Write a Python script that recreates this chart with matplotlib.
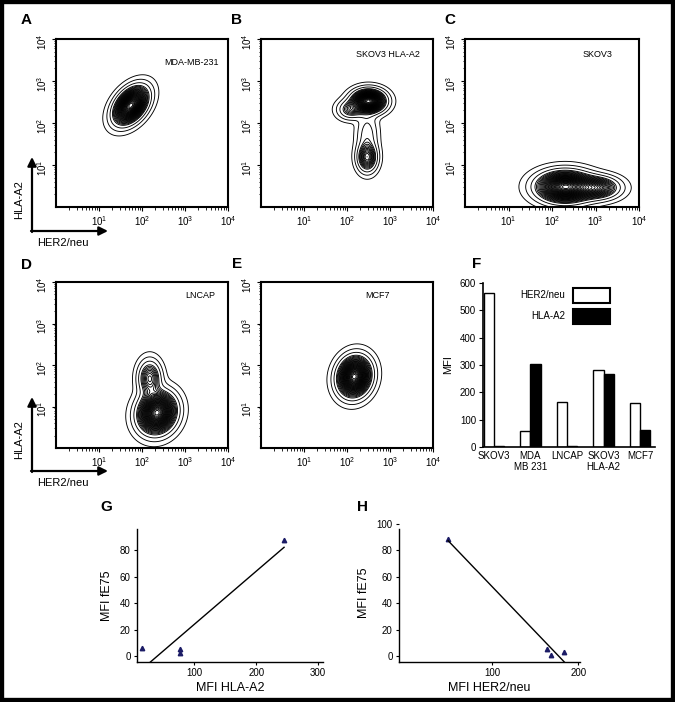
import numpy as np
import matplotlib.pyplot as plt
from matplotlib.patches import Rectangle
from matplotlib.ticker import FixedLocator, LogLocator, NullFormatter

plt.rcParams['font.family'] = ['Liberation Sans', 'DejaVu Sans']

W, H = 675, 702

# flow populations, log10 units: (HER2 centre, HLA-A2 centre, sd x, sd y, corr, weight)
pops_A = [(1.74, 2.42, 0.215, 0.24, 0.42, 1.0)]
pops_B = [(2.50, 2.52, 0.21, 0.15, 0.0, 1.0),
          (2.08, 2.32, 0.17, 0.13, 0.0, 0.22),
          (2.47, 1.70, 0.14, 0.32, 0.0, 0.12),
          (2.47, 1.18, 0.13, 0.19, 0.0, 0.40)]
pops_C = [(2.30, 0.48, 0.35, 0.20, 0.0, 1.0),
          (3.05, 0.46, 0.28, 0.15, 0.0, 0.45)]
pops_D = [(2.35, 0.85, 0.24, 0.27, 0.1, 1.0),
          (2.18, 1.68, 0.15, 0.24, 0.0, 0.35)]
pops_E = [(2.17, 1.72, 0.21, 0.26, 0.1, 1.0)]

flow_names = ['MDA-MB-231', 'SKOV3 HLA-A2', 'SKOV3', 'LNCAP', 'MCF7']

# panel F
cell_lines = ['SKOV3', 'MDA\nMB 231', 'LNCAP', 'SKOV3\nHLA-A2', 'MCF7']
her2_mfi = [563, 57, 163, 282, 160]
hla_mfi = [2, 302, 5, 266, 63]

# panels G and H
hla_g = [15, 76, 77, 245]
fe75_g = [6, 2.5, 5, 88]
her2_h = [49, 164, 168, 184]
fe75_h = [88.5, 5.5, 1, 3]

fig = plt.figure(figsize=(W / 100, H / 100), dpi=100)


def add_ax(x0, y0, x1, y1):
    return fig.add_axes([x0 / W, 1 - y1 / H, (x1 - x0) / W, (y1 - y0) / H])


# --- contour plots ---
g = np.linspace(0, 4, 400)
GX, GY = np.meshgrid(g, g)
levels = np.concatenate([[0.01, 0.035, 0.08], np.linspace(0.14, 0.98, 30)])

boxes = [(56, 39, 228, 207), (261, 39, 433, 207), (465, 39, 639, 207),
         (56, 282, 228, 448), (261, 282, 433, 448)]
name_pos = [(0.79, 0.86), (0.74, 0.91), (0.76, 0.905), (0.84, 0.92), (0.68, 0.92)]

for box, pops, name, npos in zip(boxes, [pops_A, pops_B, pops_C, pops_D, pops_E],
                                 flow_names, name_pos):
    ax = add_ax(*box)
    Z = np.zeros_like(GX)
    for cx, cy, sx, sy, rho, w in pops:
        dx = (GX - cx) / sx
        dy = (GY - cy) / sy
        q = (dx**2 - 2 * rho * dx * dy + dy**2) / (1 - rho**2)
        Z += w * np.exp(-q / 2)
    Z /= Z.max()
    ax.contour(10**GX, 10**GY, Z, levels=levels, colors='black', linewidths=0.65)
    ax.set_xscale('log')
    ax.set_yscale('log')
    ax.set_xlim(1, 1e4)
    ax.set_ylim(1, 1e4)
    for axis in (ax.xaxis, ax.yaxis):
        axis.set_major_locator(FixedLocator([10, 100, 1000, 10000]))
        axis.set_minor_locator(LogLocator(base=10, subs=np.arange(2, 10)))
        axis.set_minor_formatter(NullFormatter())
    ax.tick_params(which='major', direction='out', length=3, width=0.8, labelsize=7, pad=2)
    ax.tick_params(which='minor', direction='out', length=1.8, width=0.6)
    ax.tick_params(axis='y', labelrotation=90)
    for s in ax.spines.values():
        s.set_linewidth(1.5)
    ax.text(npos[0], npos[1], name, transform=ax.transAxes, ha='center',
            va='center', fontsize=6.5)

# --- panel F ---
axF = add_ax(483, 283, 655, 447)
xF = np.arange(len(cell_lines))
bw = 0.28
axF.bar(xF - bw / 2, her2_mfi, bw, color='white', edgecolor='black', linewidth=1.0)
axF.bar(xF + bw / 2, hla_mfi, bw, color='black', edgecolor='black', linewidth=1.0)
axF.set_xlim(-0.30, 4.41)
axF.set_ylim(0, 600)
axF.set_yticks(range(0, 601, 100))
axF.set_xticks(xF)
axF.set_xticklabels(cell_lines, fontsize=7, linespacing=1.1)
axF.tick_params(axis='x', length=0, pad=3)
axF.tick_params(axis='y', direction='out', length=3, labelsize=7, pad=2)
axF.spines['top'].set_visible(False)
axF.spines['right'].set_visible(False)
axF.spines['left'].set_linewidth(1.2)
axF.spines['bottom'].set_linewidth(1.2)
axF.set_ylabel('MFI', fontsize=8, labelpad=5)
for ypos, lab, fc in [(0.878, 'HER2/neu', 'white'), (0.752, 'HLA-A2', 'black')]:
    axF.add_patch(Rectangle((0.523, ypos), 0.215, 0.092, transform=axF.transAxes,
                            facecolor=fc, edgecolor='black', linewidth=1.5,
                            clip_on=False))
    axF.text(0.477, ypos + 0.046, lab, transform=axF.transAxes, ha='right',
             va='center', fontsize=7)


# --- panels G and H ---
def scatter_fit(ax, x, y, xlim, ylim, xticks, yticks, xlabel):
    ax.plot(x, y, '^', color='#1c1c66', markersize=3.2, linestyle='none')
    m, b = np.polyfit(x, y, 1)
    ends = []
    for xe in (min(x), max(x)):
        if m * xe + b < ylim[0]:
            xe = (ylim[0] - b) / m
        ends.append(xe)
    xs = np.array(ends)
    ax.plot(xs, m * xs + b, color='black', linewidth=1.0)
    ax.set_xlim(*xlim)
    ax.set_ylim(*ylim)
    ax.set_xticks(xticks)
    ax.set_yticks(yticks)
    ax.tick_params(direction='out', length=2.5, width=0.8, labelsize=7, pad=2)
    ax.spines['top'].set_visible(False)
    ax.spines['right'].set_visible(False)
    ax.spines['left'].set_linewidth(1.0)
    ax.spines['bottom'].set_linewidth(1.0)
    ax.set_ylabel('MFI fE75', fontsize=9, labelpad=5)
    ax.set_xlabel(xlabel, fontsize=9, labelpad=3)


axG = add_ax(137, 529, 323, 662)
scatter_fit(axG, hla_g, fe75_g, (7, 308), (-4.5, 96), [100, 200, 300],
            [0, 20, 40, 60, 80], 'MFI HLA-A2')

axH = add_ax(399, 524, 580, 662)
scatter_fit(axH, her2_h, fe75_h, (-8, 202), (-4.5, 100), [100, 200],
            [0, 20, 40, 60, 80, 100], 'MFI HER2/neu')
axH.spines['left'].set_bounds(-4.5, 96)

# --- overlay: letters, arrows, border ---
ov = fig.add_axes([0, 0, 1, 1], zorder=10)
ov.set_xlim(0, W)
ov.set_ylim(H, 0)
ov.set_axis_off()

letters_all = ['A', 'B', 'C', 'D', 'E', 'F', 'G', 'H']
letter_xy = [(26, 20), (237, 20), (450, 20), (26, 265), (237, 264), (477, 264),
             (106, 507), (363, 507)]
for lt, (lx, ly) in zip(letters_all, letter_xy):
    ov.text(lx, ly, lt, fontsize=11, fontweight='bold', ha='center', va='center')

for corner_y, tip_y in [(231, 157), (471, 397)]:
    ov.annotate('', xy=(32, tip_y), xytext=(32, corner_y + 1),
                arrowprops=dict(arrowstyle='-|>', lw=1.6, color='black',
                                mutation_scale=13, shrinkA=0, shrinkB=0))
    ov.annotate('', xy=(108, corner_y), xytext=(31, corner_y),
                arrowprops=dict(arrowstyle='-|>', lw=1.6, color='black',
                                mutation_scale=13, shrinkA=0, shrinkB=0))
    ov.text(19, corner_y - 31, 'HLA-A2', rotation=90, fontsize=8, ha='center', va='center')
    ov.text(63, corner_y + 12, 'HER2/neu', fontsize=8, ha='center', va='center')

ov.add_patch(Rectangle((0, 0), W, H, facecolor='none', edgecolor='black',
                       linewidth=6, clip_on=True))

fig.savefig('out.png', dpi=100)
